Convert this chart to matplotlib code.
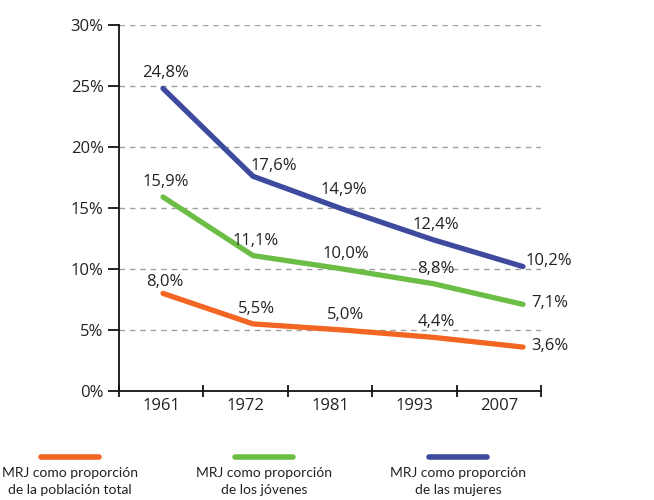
import matplotlib
matplotlib.use("Agg")
import matplotlib.pyplot as plt
from matplotlib import font_manager as fm
import numpy as np

years = ["1961", "1972", "1981", "1993", "2007"]
total = [8.0, 5.5, 5.0, 4.4, 3.6]
jovenes = [15.9, 11.1, 10.0, 8.8, 7.1]
mujeres = [24.8, 17.6, 14.9, 12.4, 10.2]
series_labels = ["MRJ como proporción\nde la población total",
                 "MRJ como proporción\nde los jóvenes",
                 "MRJ como proporción\nde las mujeres"]
yticks = [0, 5, 10, 15, 20, 25, 30]

c_orange = "#F26522"
c_green = "#6CBD45"
c_blue = "#3E4A9E"

names = {f.name for f in fm.fontManager.ttflist}
main_font = "Open Sans" if "Open Sans" in names else "DejaVu Sans"
leg_font = "Lato" if "Lato" in names else main_font
txt = "#222222"
fs = 12

fig = plt.figure(figsize=(6.54, 5.0), dpi=100)
L, R, B, T = 119/654, 541/654, 109/500, 475/500
ax = fig.add_axes([L, B, R-L, T-B])
ax.set_xlim(0, len(years))
ax.set_ylim(0, 30)
for s in ["top", "right"]:
    ax.spines[s].set_visible(False)
for s in ["left", "bottom"]:
    ax.spines[s].set_linewidth(1.3)
    ax.spines[s].set_color("#111111")
ax.set_yticks(yticks)
ax.set_yticklabels([f"{v}%" for v in yticks], fontsize=fs, family=main_font, color=txt)
ax.tick_params(axis="y", direction="out", length=8, width=1.2, pad=3)
ax.set_xticks(np.arange(len(years) + 1))
ax.set_xticklabels([])
ax.tick_params(axis="x", direction="inout", length=9, width=1.2)
ax.set_xticks(np.arange(len(years)) + 0.5, minor=True)
ax.set_xticklabels(years, minor=True, fontsize=fs, family=main_font, color=txt)
ax.tick_params(axis="x", which="minor", length=0, pad=5)
for v in yticks[1:]:
    ax.axhline(v, color="#A0A0A0", lw=1.0, ls=(0, (4, 3.5)), zorder=0)

# label offsets in pixels (dx, dy up) - layout only
px = 72 / 100
special = {(2, 1): (21, 10), (2, 2): (1, 19), (0, 0): (2, 11)}

# line layer
lx = fig.add_axes([L, B, R-L, T-B], sharey=ax)
lx.set_xlim(-0.489, 4.2)
lx.axis("off")
xs = np.arange(len(years))
for si, (vals, col) in enumerate([(total, c_orange), (jovenes, c_green), (mujeres, c_blue)]):
    lx.plot(xs, vals, color=col, lw=3.8, solid_capstyle="round", solid_joinstyle="round")
    for i, v in enumerate(vals):
        lab = f"{v:.1f}".replace(".", ",") + "%"
        if i < len(vals) - 1:
            dx, dy = special.get((si, i), (3, 15))
            lx.annotate(lab, (xs[i], v), xytext=(dx*px, dy*px), textcoords="offset points",
                        ha="center", va="center", fontsize=fs, family=main_font, color=txt)
        else:
            dx, dy = (3, 6) if si == 2 else (8, 1)
            lx.annotate(lab, (xs[i], v), xytext=(dx*px, dy*px), textcoords="offset points",
                        ha="left", va="center", fontsize=fs, family=main_font, color=txt)

# legend
for cx, col, lab in [(70, c_orange, series_labels[0]), (264, c_green, series_labels[1]),
                     (458, c_blue, series_labels[2])]:
    fig.add_artist(plt.Line2D([(cx-29)/654, (cx+29)/654], [1-457/500]*2, color=col,
                              lw=4, solid_capstyle="round", transform=fig.transFigure))
    fig.text(cx/654, 1-467/500, lab, ha="center", va="top", fontsize=10,
             family=leg_font, color=txt, linespacing=1.45)

fig.savefig("out.png", dpi=100)
